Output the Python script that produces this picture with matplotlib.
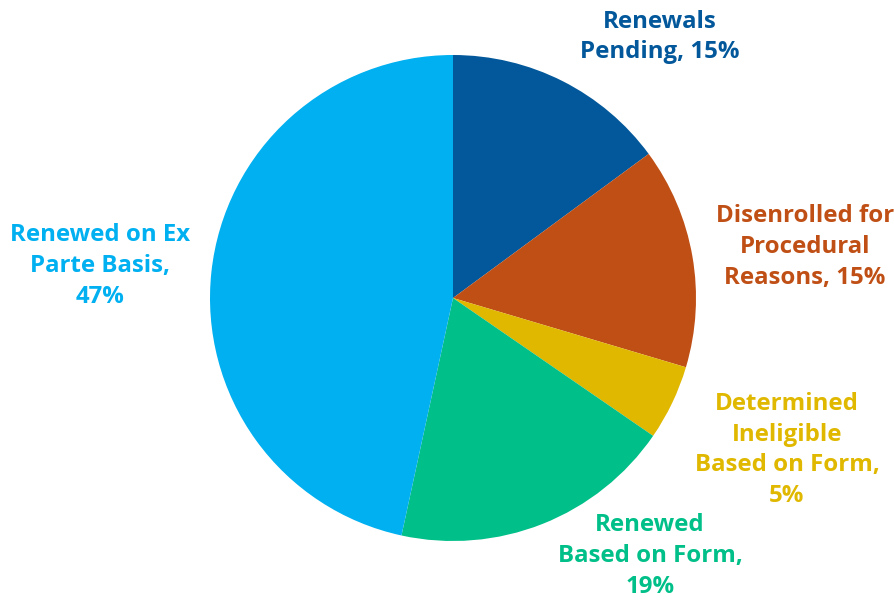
import matplotlib
matplotlib.use("Agg")
import matplotlib.pyplot as plt

categories = ["Renewals\nPending", "Disenrolled for\nProcedural\nReasons", "Determined\nIneligible\nBased on Form",
              "Renewed\nBased on Form", "Renewed on Ex\nParte Basis"]
values = [14.9, 14.7, 5.0, 18.8, 46.6]
colors = ["#02589A", "#C04F15", "#E0B800", "#00BF88", "#00B0F0"]
label_texts = ["Renewals\nPending, 15%", "Disenrolled for\nProcedural\nReasons, 15%",
               "Determined\nIneligible\nBased on Form,\n5%", "Renewed\nBased on Form,\n19%",
               "Renewed on Ex\nParte Basis,\n47%"]
label_pos = [(660, 37), (805, 247), (787, 450), (650, 556), (100, 266)]

W, H = 895, 601
fig = plt.figure(figsize=(W / 100, H / 100), dpi=100)
ax = fig.add_axes([0, 0, 1, 1])

ax.pie(values, colors=colors, startangle=90, counterclock=False,
       center=(453, H - 298), radius=243, frame=True,
       wedgeprops=dict(linewidth=0))
ax.set_xlim(0, W)
ax.set_ylim(0, H)
ax.set_aspect("equal")
ax.axis("off")

for txt, (px, py), c in zip(label_texts, label_pos, colors):
    ax.text(px, H - py, txt, ha="center", va="center", color=c,
            fontsize=17.3, fontweight="bold", family="Open Sans", linespacing=1.38)

fig.savefig("out.png", dpi=100)
